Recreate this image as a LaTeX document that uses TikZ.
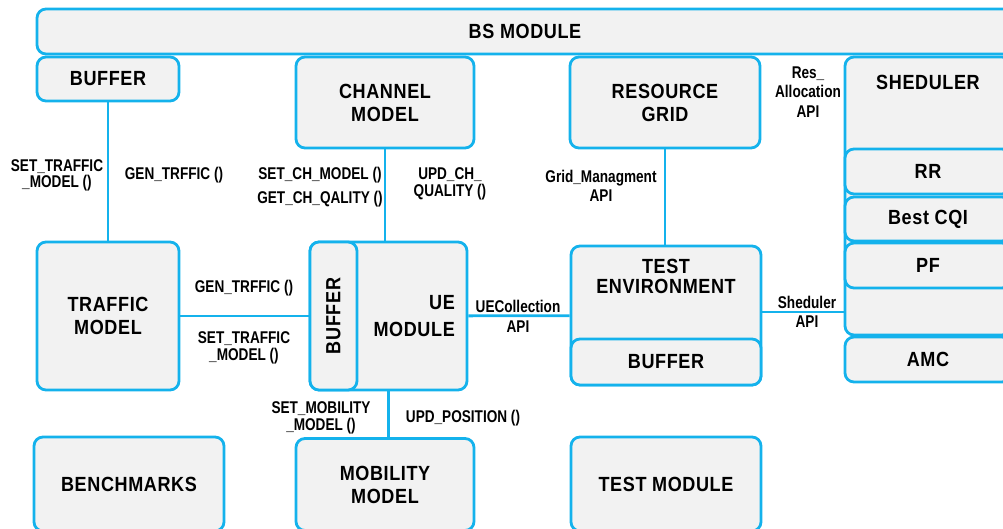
\documentclass[tikz,border=0pt]{standalone}
\usepackage{fontspec}
\setmainfont{Liberation Sans}
\newfontfamily\boxfont[FakeStretch=0.88,LetterSpace=3]{Liberation Sans}
\newfontfamily\apifont[FakeStretch=0.8]{Liberation Sans}
\usepackage{tikz}
\usetikzlibrary{positioning}

\definecolor{edgeblue}{RGB}{20,178,236}
\definecolor{boxgray}{RGB}{242,242,242}

\begin{document}
\begin{tikzpicture}[x=1pt,y=1pt,on grid]
\tikzset{modbox/.style={draw=edgeblue,fill=boxgray,line width=2.8pt,rounded corners=9pt,inner sep=0pt,align=center,
                        font=\boxfont\bfseries\fontsize{20.5}{23}\selectfont}}
\tikzset{boxtext/.style={inner sep=0pt,align=center,font=\boxfont\bfseries\fontsize{20.5}{23}\selectfont}}
\tikzset{apitext/.style={inner sep=0pt,align=center,font=\apifont\bfseries\fontsize{17}{19.5}\selectfont}}
\tikzset{tight/.style={font=\apifont\bfseries\fontsize{17}{16.5}\selectfont}}
\tikzset{link/.style={draw=edgeblue,line width=2.8pt}}

  \useasboundingbox (0,0) rectangle (1003,-529);
  \clip (0,0) rectangle (1003,-529);

  \node[modbox,minimum width=976pt,minimum height=45pt]  (BS)   at (525,-31.5)  {BS MODULE};
  \node[modbox,minimum width=142pt,minimum height=44pt]  (BUF)  at (108,-79)    {BUFFER};
  \node[modbox,minimum width=178pt,minimum height=91pt]  (CH)   at (385,-102.5) {CHANNEL\\MODEL};
  \node[modbox,minimum width=190pt,minimum height=91pt]  (GR)   at (665,-102.5) {RESOURCE\\GRID};

  \node[modbox,minimum width=166pt,minimum height=278pt] (SCH)  at (928,-196)   {};
  \node[boxtext]                                         (SCHL) at (928,-82)    {SHEDULER};
  \node[modbox,minimum width=166pt,minimum height=45pt]  (RR)   at (928,-171.5) {RR};
  \node[modbox,minimum width=166pt,minimum height=44pt]  (CQI)  [below=47.5pt of RR]  {Best CQI};
  \node[modbox,minimum width=166pt,minimum height=45pt]  (PF)   [below=46.5pt of CQI] {PF};
  \node[modbox,minimum width=166pt,minimum height=45pt]  (AMC)  at (928,-359.5) {AMC};

  \node[modbox,minimum width=142pt,minimum height=148pt] (TR)   at (108,-316)   {TRAFFIC\\MODEL};
  \node[modbox,minimum width=157pt,minimum height=148pt] (UE)   at (388.5,-316) {};
  \node[modbox,minimum width=47pt,minimum height=148pt,anchor=west] (UEB) at (UE.west) {\rotatebox{90}{BUFFER}};
  \node[boxtext,align=right,anchor=east]                 (UEL)  at (455,-316)   {UE\\[4pt]MODULE};

  \node[modbox,minimum width=190pt,minimum height=139pt] (TE)   at (666,-315.5) {};
  \node[boxtext]                                         (TEL)  at (666,-276)   {TEST\\[-3pt]ENVIRONMENT};
  \node[modbox,minimum width=190pt,minimum height=46pt,anchor=south] (TEB) at (TE.south) {BUFFER};

  \node[modbox,minimum width=190pt,minimum height=94pt]  (BEN)  at (129,-484)   {BENCHMARKS};
  \node[modbox,minimum width=178pt,minimum height=92pt]  (MOB)  at (385,-484.5) {MOBILITY\\MODEL};
  \node[modbox,minimum width=190pt,minimum height=94pt]  (TM)   at (666,-484)   {TEST MODULE};

  \node[apitext,tight] (L1)  at (57,-175.5)  {SET\_TRAFFIC\\\_MODEL ()};
  \node[apitext]       (L2)  at (174,-175)   {GEN\_TRFFIC ()};
  \node[apitext]       (L3)  at (320,-187)   {SET\_CH\_MODEL ()\\[4.5pt]GET\_CH\_QALITY ()};
  \node[apitext,tight] (L4)  at (450,-184)   {UPD\_CH\_\\QUALITY ()};
  \node[apitext]       (L5)  at (601,-186)   {Grid\_Managment\\API};
  \node[apitext]       (L6)  at (808,-92)    {Res\_\\Allocation\\API};
  \node[apitext]       (L7)  at (244,-288)   {GEN\_TRFFIC ()};
  \node[apitext,tight] (L8)  at (244,-348)   {SET\_TRAFFIC\\\_MODEL ()};
  \node[apitext,tight] (L9)  at (321,-418)   {SET\_MOBILITY\\\_MODEL ()};
  \node[apitext]       (L10) at (463,-418)   {UPD\_POSITION ()};
  \node[apitext]       (L11) at (518,-316.5) {UECollection\\API};
  \node[apitext]       (L12) at (807,-312)   {Sheduler\\API};

\coordinate (TEE) at ([yshift=3.5pt]TE.east);
\path (BUF)      edge [link] (TR)
      (CH.south) edge [link] (CH.south |- UE.north)
      (GR.south) edge [link] (GR.south |- TE.north)
      (TR)       edge [link] (UE)
      (UE)       edge [link] (TE)
      (TEE)      edge [link] (TEE -| SCH.west)
      (UE.south) edge [link] (UE.south |- MOB.north);
\end{tikzpicture}
\end{document}
